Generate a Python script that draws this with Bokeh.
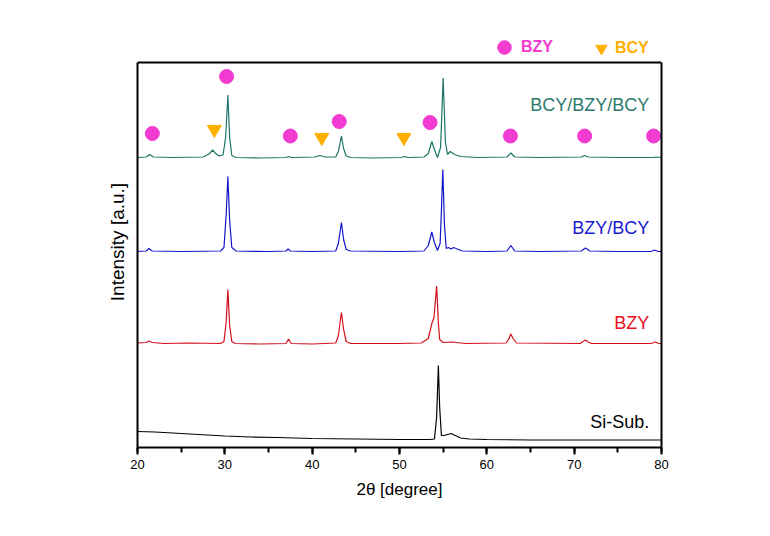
from bokeh.plotting import figure
from bokeh.models import (Label, Legend, LegendItem, SingleIntervalTicker,
                          FixedTicker, Range1d, LinearAxis, Span)
from bokeh.embed import file_html
from bokeh.resources import INLINE

FONT = "Liberation Sans"

# ---------------- data ----------------
# Si substrate (absolute intensity, a.u.)
si_x = [20, 22, 25, 28, 30, 33, 36, 40, 45, 50, 53.5, 54.0, 54.25, 54.45, 54.6,
        54.8, 55.1, 55.5, 55.9, 56.4, 57, 58, 60, 65, 70, 75, 80]
si_y = [16, 15.5, 14, 12.5, 11.5, 10.5, 10, 9, 8.5, 8, 8, 8.5, 30, 82, 40,
        12, 12, 13, 14, 12, 9.5, 8.5, 8, 7.5, 7.5, 7.5, 7.5]

# BZY (relative intensity)
bzy_tx = [20, 21.0, 21.3, 21.7, 23, 26, 29.5, 29.9, 30.15, 30.35, 30.55, 30.8, 31.2,
          34, 37.0, 37.3, 37.6, 40, 42.7, 43.0, 43.35, 43.6, 43.9, 44.4, 50, 52.5,
          53.3, 53.7, 53.95, 54.25, 54.45, 54.6, 55.0, 56.0, 56.5, 57.5, 62.2, 62.5,
          62.75, 63.0, 63.4, 70.7, 71.0, 71.3, 71.6, 72, 78.8, 79.3, 79.7, 80]
bzy_ty = [4.5, 5, 6.5, 5, 4, 4.5, 4, 6, 25, 58, 22, 6, 4,
          3.5, 4, 8.5, 4, 3.5, 4.5, 12, 35, 18, 6, 4, 4, 4.5,
          9, 24, 30, 61.5, 25, 8, 5, 5.5, 5, 4, 4.5, 8,
          13.5, 9, 4.5, 4, 6, 7.5, 5.5, 4, 4, 5.5, 4, 4]

# BZY/BCY (relative intensity)
bb_x = [20, 21.0, 21.3, 21.7, 25, 29.5, 29.9, 30.15, 30.35, 30.55, 30.8, 31.3, 35,
        37.0, 37.25, 37.5, 40, 42.7, 43.0, 43.35, 43.6, 43.9, 44.4, 50, 52.8, 53.3,
        53.7, 54.0, 54.35, 54.65, 54.8, 54.96, 55.15, 55.35, 55.6, 55.9, 56.2, 56.6,
        57.2, 60, 62.3, 62.75, 63.2, 66, 70.8, 71.3, 71.8, 75, 78.8, 79.2, 79.6, 80]
bb_y = [4, 4.5, 7, 4.5, 4, 4.5, 8, 40, 79, 35, 8, 4.5, 4,
        4.5, 6.5, 4.5, 4, 4.5, 12, 33, 16, 6, 4.5, 4, 4.5, 10,
        23.5, 13, 5, 12, 45, 86, 30, 7, 8, 6.5, 8, 6.5,
        4.5, 4, 4.5, 10, 4.5, 4, 4.5, 7.5, 4.5, 4, 4, 5.5, 4, 4]

# BCY/BZY/BCY (relative intensity)
bbb_x = [20, 21.0, 21.4, 21.8, 24, 27.5, 28.2, 28.6, 28.9, 29.3, 29.8, 30.1, 30.35,
         30.55, 30.8, 31.3, 34, 37.0, 37.3, 37.6, 40.3, 40.9, 41.5, 42.7, 43.0, 43.35,
         43.6, 43.9, 44.4, 47, 50.2, 50.6, 51.0, 52.8, 53.3, 53.7, 54.0, 54.35, 54.7,
         55.0, 55.25, 55.5, 55.8, 56.3, 57.0, 59, 62.3, 62.75, 63.2, 66, 70.8, 71.2,
         71.6, 75, 79.0, 79.4, 80]
bbb_y = [4, 4.5, 7, 4.5, 4, 4.5, 7.5, 11.5, 8.5, 5.5, 6.5, 25, 66.5,
         24, 6, 4, 3.5, 4, 5, 4, 4.5, 6, 4.5, 4.5, 10, 25.5,
         13, 5.5, 4, 3.5, 4, 5, 4, 4.5, 8, 20, 12, 4, 14,
         83.5, 20, 7, 10, 7, 5, 4, 4.5, 8.5, 4.5, 4, 4.5, 6,
         4.5, 4, 4, 4.5, 4]

offsets = [0, 100, 192, 286]
trace_names = ["Si-Sub.", "BZY", "BZY/BCY", "BCY/BZY/BCY"]
trace_label_y = [25.5, 124.5, 220, 342.5]

# phase markers (plotted intensity)
mk_bzy_x = [21.7, 30.2, 37.5, 43.1, 53.5, 62.7, 71.2, 79.1]
mk_bzy_y = [314, 371, 311.5, 326, 325, 311.5, 311.5, 311.5]
mk_bcy_x = [28.8, 41.1, 50.5]
mk_bcy_y = [318, 310, 310]

x_min, x_max = 20, 80
y_min, y_box, y_max = 0, 385, 411   # box top at y_box, legend strip above it

# ---------------- styles ----------------
colors = ["#000000", "#D4101C", "#1414CC", "#1E7566"]
text_colors = ["#000000", "#E8101A", "#1A1AD0", "#2A7A6E"]
MAG = "#F23BD1"
ORG = "#FFB000"

p = figure(width=762, height=528, output_backend="svg", toolbar_location=None,
           x_range=Range1d(x_min, x_max), y_range=Range1d(y_min, y_max),
           min_border_left=137, min_border_right=101, min_border_top=36,
           min_border_bottom=81)
p.background_fill_color = "white"
p.border_fill_color = "white"
p.xgrid.visible = False
p.ygrid.visible = False
p.outline_line_color = None

traces = [(si_x, si_y), (bzy_tx, bzy_ty), (bb_x, bb_y), (bbb_x, bbb_y)]
for (tx, ty), off, c in zip(traces, offsets, colors):
    assert len(tx) == len(ty)
    p.line(tx, [v + off for v in ty], line_color=c, line_width=1.2)

r_c = p.scatter(mk_bzy_x, mk_bzy_y, marker="circle", size=14,
                fill_color=MAG, line_color=MAG)
r_t = p.scatter(mk_bcy_x, mk_bcy_y, marker="inverted_triangle", size=14,
                fill_color=ORG, line_color=ORG)

for name, ly, tc in zip(trace_names, trace_label_y, text_colors):
    p.add_layout(Label(x=78.6, y=ly, text=name, text_align="right",
                       text_baseline="middle", text_color=tc,
                       text_font=FONT, text_font_size="18px"))

# top edge of the box
p.add_layout(Span(location=y_box, dimension="width", line_color="black",
                  line_width=2))

# x axis
xa = p.xaxis[0]
xa.ticker = SingleIntervalTicker(interval=10, num_minor_ticks=2)
xa.axis_label = "2θ [degree]"
xa.axis_label_text_font = FONT
xa.axis_label_text_font_size = "17px"
xa.axis_label_text_font_style = "normal"
xa.axis_label_text_color = "black"
xa.axis_label_standoff = 8
xa.major_label_text_font = FONT
xa.major_label_text_font_size = "13px"
xa.major_label_text_color = "black"
xa.major_label_standoff = 5
xa.major_tick_in = 0
xa.major_tick_out = 7
xa.minor_tick_in = 0
xa.minor_tick_out = 5
xa.major_tick_line_width = 2
xa.minor_tick_line_width = 2
xa.axis_line_width = 2

# y axis (left), line limited to the box
ya = p.yaxis[0]
ya.ticker = FixedTicker(ticks=[])
ya.bounds = (y_min, y_box)
ya.minor_tick_line_color = None
ya.major_tick_line_color = None
ya.axis_label = "Intensity [a.u.]"
ya.axis_label_text_font = FONT
ya.axis_label_text_font_size = "19px"
ya.axis_label_text_font_style = "normal"
ya.axis_label_text_color = "black"
ya.axis_label_standoff = 10
ya.axis_line_width = 2

# right edge of the box
ra = LinearAxis(ticker=FixedTicker(ticks=[]), bounds=(y_min, y_box),
                axis_line_width=2, major_tick_line_color=None,
                minor_tick_line_color=None, major_label_text_font_size="0px")
p.add_layout(ra, "right")

# phase legend above the box
def make_legend(label, rend, color, loc, gsize):
    return Legend(items=[LegendItem(label=label, renderers=[rend])],
                  location=loc, orientation="horizontal",
                  padding=0, margin=0, spacing=0,
                  border_line_color=None, background_fill_alpha=0,
                  glyph_width=gsize, glyph_height=gsize,
                  label_standoff=0,
                  label_text_font=FONT, label_text_font_size="16px",
                  label_text_font_style="bold", label_text_color=color)

p.add_layout(make_legend("BZY", r_c, MAG, (350, 383), 34))
p.add_layout(make_legend("BCY", r_t, ORG, (450, 385), 28))

open("out.html", "w").write(file_html(p, INLINE))
